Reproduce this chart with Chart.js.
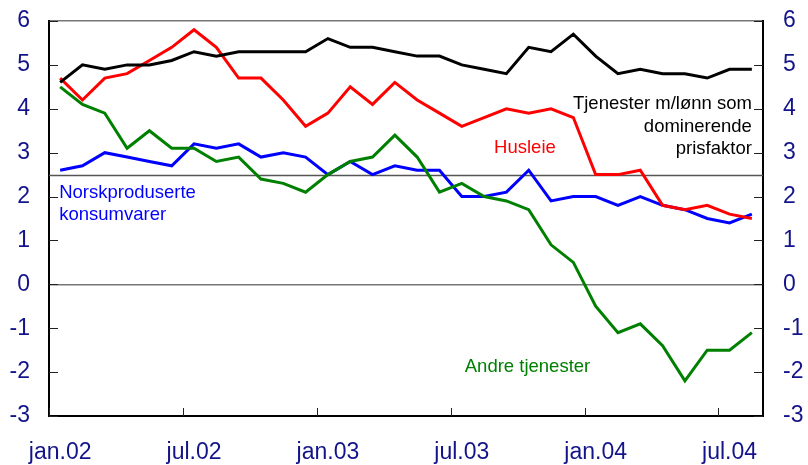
<!DOCTYPE html>
<html>
<head>
<meta charset="utf-8">
<script src="https://cdn.jsdelivr.net/npm/chart.js@4/dist/chart.umd.min.js"></script>
<style>
  html, body { margin: 0; padding: 0; background: #fff; }
  #wrap { width: 808px; height: 465px; position: relative; }
</style>
</head>
<body>
<div id="wrap"><canvas id="chart"></canvas></div>
<script>
const months = [
    'jan.02', 'feb.02', 'mar.02', 'apr.02', 'mai.02', 'jun.02', 'jul.02', 'aug.02', 'sep.02', 'okt.02', 'nov.02', 'des.02',
    'jan.03', 'feb.03', 'mar.03', 'apr.03', 'mai.03', 'jun.03', 'jul.03', 'aug.03', 'sep.03', 'okt.03', 'nov.03', 'des.03',
    'jan.04', 'feb.04', 'mar.04', 'apr.04', 'mai.04', 'jun.04', 'jul.04', 'aug.04'
];

const tjenesterLonn = [4.6, 5.0, 4.9, 5.0, 5.0, 5.1, 5.3, 5.2, 5.3, 5.3, 5.3, 5.3,
    5.6, 5.4, 5.4, 5.3, 5.2, 5.2, 5.0, 4.9, 4.8, 5.4, 5.3, 5.7,
    5.2, 4.8, 4.9, 4.8, 4.8, 4.7, 4.9, 4.9];
const husleie = [4.7, 4.2, 4.7, 4.8, 5.1, 5.4, 5.8, 5.4, 4.7, 4.7, 4.2, 3.6,
    3.9, 4.5, 4.1, 4.6, 4.2, 3.9, 3.6, 3.8, 4.0, 3.9, 4.0, 3.8,
    2.5, 2.5, 2.6, 1.8, 1.7, 1.8, 1.6, 1.5];
const andreTjenester = [4.5, 4.1, 3.9, 3.1, 3.5, 3.1, 3.1, 2.8, 2.9, 2.4, 2.3, 2.1,
    2.5, 2.8, 2.9, 3.4, 2.9, 2.1, 2.3, 2.0, 1.9, 1.7, 0.9, 0.5,
    -0.5, -1.1, -0.9, -1.4, -2.2, -1.5, -1.5, -1.1];
const norskproduserte = [2.6, 2.7, 3.0, 2.9, 2.8, 2.7, 3.2, 3.1, 3.2, 2.9, 3.0, 2.9,
    2.5, 2.8, 2.5, 2.7, 2.6, 2.6, 2.0, 2.0, 2.1, 2.6, 1.9, 2.0,
    2.0, 1.8, 2.0, 1.8, 1.7, 1.5, 1.4, 1.6];

const refLevel = 2.5;
const navy = '#14148a';

Chart.defaults.font.family = '"Liberation Sans", Arial, sans-serif';

function serie(data, color) {
    return {
        data: data,
        borderColor: color,
        backgroundColor: color,
        borderWidth: 3,
        pointRadius: 0,
        tension: 0,
        fill: false
    };
}

function line(ctx, x1, y1, x2, y2) {
    ctx.beginPath();
    ctx.moveTo(x1, y1);
    ctx.lineTo(x2, y2);
    ctx.stroke();
}

// referanselinje, tickmerker og tekst
const pynt = {
    id: 'pynt',
    beforeDatasetsDraw(chart) {
        const { ctx, chartArea: a, scales } = chart;
        ctx.save();
        ctx.strokeStyle = '#555';
        ctx.lineWidth = 1.5;
        const py = Math.round(scales.y.getPixelForValue(refLevel)) + 0.5;
        line(ctx, a.left, py, a.right, py);
        ctx.restore();
    },
    afterDraw(chart) {
        const { ctx, chartArea: a, scales } = chart;
        const x = scales.x, y = scales.y;
        ctx.save();
        ctx.strokeStyle = '#222';
        ctx.lineWidth = 1;
        y.ticks.forEach((t, i) => {
            const py = Math.round(y.getPixelForTick(i)) + 0.5;
            line(ctx, a.left, py, a.left + 9, py);
            line(ctx, a.right - 9, py, a.right, py);
        });
        const half = (x.getPixelForValue(1) - x.getPixelForValue(0)) / 2;
        for (let i = 0; i < months.length; i += 6) {
            const px = Math.round(x.getPixelForValue(i) - half) + 0.5;
            line(ctx, px, a.bottom, px, a.bottom - 8);
        }

        ctx.font = '18.5px "Liberation Sans", Arial, sans-serif';
        ctx.textBaseline = 'alphabetic';

        ctx.fillStyle = '#0000ff';
        ctx.textAlign = 'left';
        ctx.fillText('Norskproduserte', x.getPixelForValue(0) - 1, y.getPixelForValue(1.97));
        ctx.fillText('konsumvarer', x.getPixelForValue(0) - 1, y.getPixelForValue(1.47));

        ctx.fillStyle = '#000';
        ctx.textAlign = 'right';
        const rx = x.getPixelForValue(months.length - 1);
        ctx.fillText('Tjenester m/lønn som', rx, y.getPixelForValue(4.0));
        ctx.fillText('dominerende', rx, y.getPixelForValue(3.48));
        ctx.fillText('prisfaktor', rx, y.getPixelForValue(2.97));

        ctx.fillStyle = '#ff0000';
        ctx.textAlign = 'left';
        ctx.fillText('Husleie', x.getPixelForValue(19) + 10, y.getPixelForValue(3.0));

        ctx.fillStyle = '#008000';
        ctx.fillText('Andre tjenester', x.getPixelForValue(18) + 3, y.getPixelForValue(-2.0));
        ctx.restore();
    }
};

const tickFont = { size: 23 };

function fastBredde(w) {
    return function (s) {
        s.width = w;
        s.paddingTop = 0;
        s.paddingBottom = 0;
    };
}

new Chart(document.getElementById('chart'), {
    type: 'line',
    data: {
        labels: months,
        datasets: [
            serie(tjenesterLonn, '#000000'),
            serie(husleie, '#ff0000'),
            serie(andreTjenester, '#008000'),
            serie(norskproduserte, '#0000ff')
        ]
    },
    options: {
        responsive: true,
        maintainAspectRatio: false,
        animation: false,
        layout: { padding: { top: 21, left: 0, right: 0, bottom: 0 } },
        plugins: {
            legend: { display: false },
            tooltip: { enabled: false }
        },
        scales: {
            x: {
                type: 'category',
                offset: true,
                grid: { offset: true, drawOnChartArea: false, drawTicks: false },
                border: { color: '#000', width: 2 },
                ticks: {
                    autoSkip: false,
                    maxRotation: 0,
                    padding: 23,
                    color: navy,
                    font: tickFont,
                    callback: function (val, i) { return i % 6 === 0 ? months[i] : ''; }
                },
                afterFit: function (s) {
                    s.height = 49;
                    s.paddingLeft = 0;
                    s.paddingRight = 0;
                }
            },
            y: {
                position: 'left',
                min: -3,
                max: 6,
                ticks: { stepSize: 1, padding: 19, color: navy, font: tickFont },
                grid: {
                    drawTicks: false,
                    lineWidth: 1.5,
                    color: function (c) { return (c.tick && (c.tick.value === 0 || c.tick.value === 6)) ? '#777' : 'rgba(0,0,0,0)'; }
                },
                border: { color: '#000', width: 2 },
                afterFit: fastBredde(49)
            },
            y2: {
                position: 'right',
                min: -3,
                max: 6,
                ticks: { stepSize: 1, padding: 20, color: navy, font: tickFont },
                grid: { display: false, drawTicks: false },
                border: { color: '#000', width: 2 },
                afterFit: fastBredde(45)
            }
        }
    },
    plugins: [pynt]
});
</script>
</body>
</html>
